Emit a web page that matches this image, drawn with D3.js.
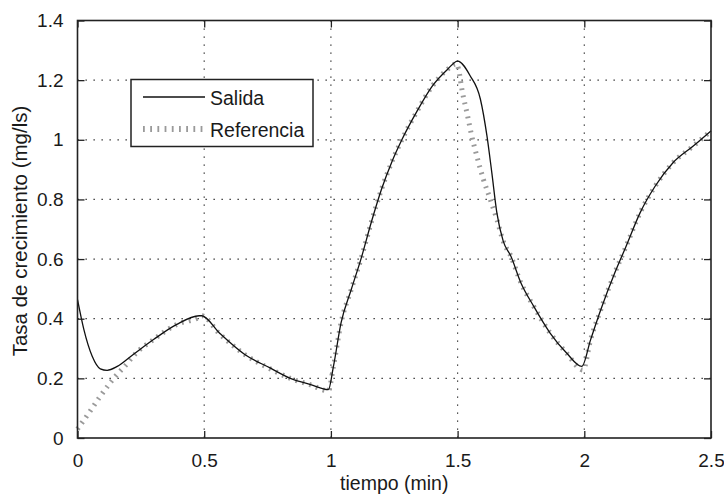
<!DOCTYPE html>
<html>
<head>
<meta charset="utf-8">
<script src="https://cdn.jsdelivr.net/npm/d3@7"></script>
<style>
  body { margin: 0; background: #fff; }
  svg text { font-family: "Liberation Sans", Arial, Helvetica, sans-serif; fill: #1a1a1a; }
</style>
</head>
<body>
<div id="wrapper"></div>
<script>
// data
const salidaT = [0, 0.025, 0.058, 0.09, 0.117, 0.157, 0.22, 0.30, 0.39, 0.48, 0.49, 0.56, 0.66, 0.76, 0.84, 0.92, 0.99,
  1.01, 1.04, 1.08, 1.12, 1.16, 1.20, 1.24, 1.28, 1.34, 1.40, 1.46, 1.50, 1.55, 1.59, 1.616, 1.635, 1.655, 1.68,
  1.71, 1.75, 1.80, 1.865, 1.93, 1.99, 2.025, 2.065, 2.12, 2.165, 2.22, 2.28, 2.35, 2.43, 2.5];
const salidaV = [0.464, 0.364, 0.274, 0.232, 0.227, 0.24, 0.28, 0.33, 0.38, 0.41, 0.41, 0.352, 0.28, 0.235, 0.2, 0.179, 0.162,
  0.24, 0.386, 0.497, 0.604, 0.725, 0.835, 0.925, 1.0, 1.096, 1.18, 1.236, 1.264, 1.214, 1.136, 1.012, 0.89, 0.755, 0.66,
  0.61, 0.52, 0.442, 0.352, 0.285, 0.24, 0.33, 0.43, 0.553, 0.643, 0.755, 0.845, 0.923, 0.979, 1.03];

const refT = [0, 0.045, 0.09, 0.143, 0.196, 0.22, 0.30, 0.39, 0.48, 0.49, 0.56, 0.66, 0.76, 0.84, 0.92, 0.99,
  1.01, 1.04, 1.08, 1.12, 1.16, 1.20, 1.24, 1.28, 1.34, 1.40, 1.46, 1.495, 1.504, 1.517, 1.537, 1.556, 1.576, 1.602,
  1.629, 1.655, 1.68, 1.71, 1.75, 1.80, 1.865, 1.93, 1.995, 2.025, 2.065, 2.12, 2.165, 2.22, 2.28, 2.35, 2.43, 2.5];
const refV = [0.03, 0.084, 0.14, 0.2, 0.25, 0.275, 0.33, 0.38, 0.405, 0.41, 0.35, 0.28, 0.232, 0.2, 0.178, 0.158,
  0.24, 0.386, 0.497, 0.604, 0.725, 0.835, 0.925, 1.0, 1.096, 1.18, 1.236, 1.255, 1.236, 1.169, 1.09, 1.012, 0.945, 0.867,
  0.8, 0.733, 0.66, 0.61, 0.52, 0.442, 0.352, 0.285, 0.228, 0.33, 0.43, 0.553, 0.643, 0.755, 0.845, 0.923, 0.979, 1.03];

const xTicks = [0, 0.5, 1, 1.5, 2, 2.5];
const yTicks = [0, 0.2, 0.4, 0.6, 0.8, 1, 1.2, 1.4];
const legendNames = ["Salida", "Referencia"];

const dimensions = {
  width: 724,
  height: 497,
  margins: { top: 20.5, right: 13, bottom: 59, left: 77.5 }
};
dimensions.boundedWidth = dimensions.width - dimensions.margins.left - dimensions.margins.right;
dimensions.boundedHeight = dimensions.height - dimensions.margins.top - dimensions.margins.bottom;

const svg = d3.select("#wrapper").append("svg")
  .attr("width", dimensions.width)
  .attr("height", dimensions.height);

const bounds = svg.append("g")
  .attr("transform", `translate(${dimensions.margins.left},${dimensions.margins.top})`);

const xScale = d3.scaleLinear().domain([0, 2.5]).range([0, dimensions.boundedWidth]);
const yScale = d3.scaleLinear().domain([0, 1.4]).range([dimensions.boundedHeight, 0]);

// grid
const gridColor = "#222";
bounds.append("g").selectAll("line").data(xTicks.slice(1, -1)).join("line")
  .attr("x1", d => xScale(d)).attr("x2", d => xScale(d))
  .attr("y1", 0).attr("y2", dimensions.boundedHeight)
  .attr("stroke", gridColor).attr("stroke-width", 1.2)
  .attr("stroke-dasharray", "1.3,6.7");
bounds.append("g").selectAll("line").data(yTicks.slice(1, -1)).join("line")
  .attr("y1", d => yScale(d)).attr("y2", d => yScale(d))
  .attr("x1", 0).attr("x2", dimensions.boundedWidth)
  .attr("stroke", gridColor).attr("stroke-width", 1.2)
  .attr("stroke-dasharray", "1.3,6.7");

// lines
const toPts = (ts, vs) => ts.map((t, i) => [t, vs[i]]);
const lineGen = d3.line()
  .x(d => xScale(d[0]))
  .y(d => yScale(d[1]))
  .curve(d3.curveMonotoneX);

bounds.append("path")
  .datum(toPts(refT, refV))
  .attr("d", lineGen)
  .attr("fill", "none")
  .attr("stroke", "#9a9a9a")
  .attr("stroke-width", 5)
  .attr("stroke-dasharray", "1.8,5.4");

bounds.append("path")
  .datum(toPts(salidaT, salidaV))
  .attr("d", lineGen)
  .attr("fill", "none")
  .attr("stroke", "#111")
  .attr("stroke-width", 1.3);

// axes
const fmt = d => String(d);
const xAxis = bounds.append("g")
  .attr("transform", `translate(0,${dimensions.boundedHeight})`)
  .call(d3.axisBottom(xScale).tickValues(xTicks).tickFormat(fmt).tickSize(-7).tickPadding(16));
const xTop = bounds.append("g")
  .call(d3.axisTop(xScale).tickValues(xTicks).tickFormat("").tickSize(-7));
const yAxis = bounds.append("g")
  .call(d3.axisLeft(yScale).tickValues(yTicks).tickFormat(fmt).tickSize(-7).tickPadding(14));
const yRight = bounds.append("g")
  .attr("transform", `translate(${dimensions.boundedWidth},0)`)
  .call(d3.axisRight(yScale).tickValues(yTicks).tickFormat("").tickSize(-7));

[xAxis, xTop, yAxis, yRight].forEach(a => {
  a.select(".domain").remove();
  a.selectAll(".tick line").attr("stroke", "#222").attr("stroke-width", 1.3);
  a.selectAll("text").style("font-size", "19px").attr("fill", "#1a1a1a");
});

bounds.append("rect")
  .attr("width", dimensions.boundedWidth)
  .attr("height", dimensions.boundedHeight)
  .attr("fill", "none")
  .attr("stroke", "#222")
  .attr("stroke-width", 1.6);

// labels
svg.append("text")
  .attr("x", dimensions.margins.left + dimensions.boundedWidth / 2)
  .attr("y", 490)
  .attr("text-anchor", "middle")
  .style("font-size", "19.5px")
  .text("tiempo (min)");

svg.append("text")
  .attr("transform", "translate(27,231) rotate(-90)")
  .attr("text-anchor", "middle")
  .style("font-size", "20.5px")
  .text("Tasa de crecimiento (mg/ls)");

// legend
const legend = svg.append("g");
legend.append("rect")
  .attr("x", 131).attr("y", 79.5)
  .attr("width", 182).attr("height", 67)
  .attr("fill", "#fff")
  .attr("stroke", "#222")
  .attr("stroke-width", 1.5);

const legendStyles = [
  { stroke: "#111", width: 1.3, dash: null },
  { stroke: "#9a9a9a", width: 6, dash: "1.8,5.4" }
];
legendNames.forEach((name, i) => {
  const y = 97 + i * 32;
  legend.append("line")
    .attr("x1", 143).attr("x2", 205)
    .attr("y1", y).attr("y2", y)
    .attr("stroke", legendStyles[i].stroke)
    .attr("stroke-width", legendStyles[i].width)
    .attr("stroke-dasharray", legendStyles[i].dash);
  legend.append("text")
    .attr("x", 210)
    .attr("y", y + 7.5)
    .style("font-size", "19.5px")
    .text(name);
});
</script>
</body>
</html>
